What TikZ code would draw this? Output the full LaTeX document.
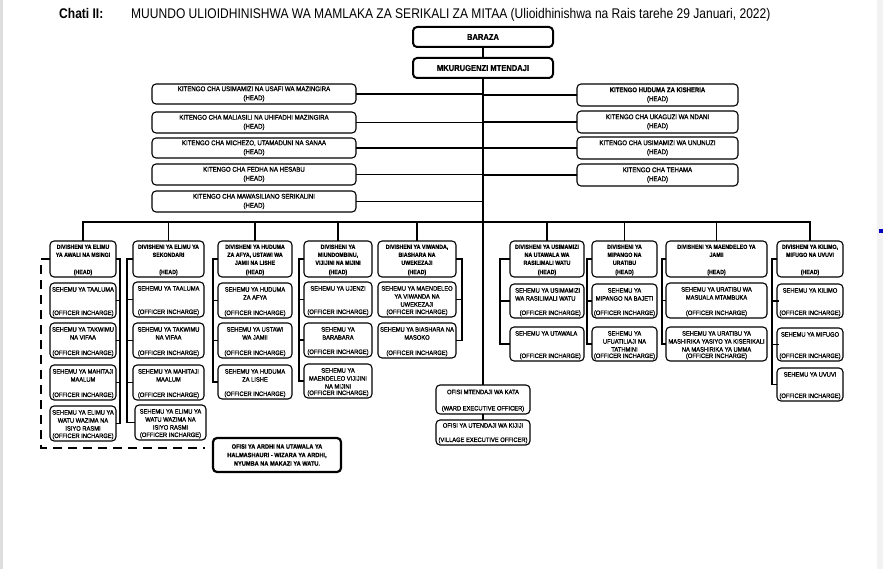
\documentclass[tikz,border=0pt]{standalone}
\usepackage{fontspec}
\setmainfont{Liberation Sans}
\newfontfamily\nar[FakeStretch=0.9]{Liberation Sans}
\newfontfamily\narm[FakeStretch=0.9,FakeBold=1.2]{Liberation Sans}
\newfontfamily\narb[FakeStretch=0.88,FakeBold=0.8]{Liberation Sans}
\newfontfamily\narT[FakeStretch=0.86]{Liberation Sans}
\tikzset{
  bx/.style={draw=black, line width=1.1pt, rounded corners=4pt, inner sep=0pt, outer sep=0pt, fill=white},
  bxk/.style={bx, line width=2pt},
  conn/.style={draw=black, line width=1.3pt},
  htx/.style={font=\narm\fontsize{6.8}{9}\selectfont, align=center, inner sep=0pt},
  stx/.style={font=\narm\fontsize{6.4}{8}\selectfont, align=center, inner sep=0pt},
  dtx/.style={font=\narb\bfseries\fontsize{6}{8}\selectfont, align=center, inner sep=0pt},
  atx/.style={font=\narb\bfseries\fontsize{6.4}{8.5}\selectfont, align=center, inner sep=0pt},
  dashln/.style={draw=black, line width=2.2pt, dash pattern=on 9pt off 6pt},
}
\newcommand\HB[6]{%
  \node[bx, htx, minimum width={#4-#2}, minimum height={#5-#3}] (#1) at ({(#2+#4)/2},{(#3+#5)/2}) {#6\\(HEAD)};}
\newcommand\DV[4]{%
  \node[bx, minimum width={#3-#2}, minimum height=36] (#1) at ({(#2+#3)/2},259) {};
  \node[dtx, anchor=north] at ([yshift=-3.5pt]#1.north) {#4};
  \node[dtx, anchor=south] at ([yshift=1.5pt]#1.south) {(HEAD)};}
\newcommand\SB[6]{%
  \node[bx, minimum width={#4-#2}, minimum height={#5-#3}] (#1) at ({(#2+#4)/2},{(#3+#5)/2}) {};
  \node[stx, anchor=north] at ([yshift=-4pt]#1.north) {#6};
  \node[stx, anchor=south] at ([yshift=1.5pt]#1.south) {(OFFICER INCHARGE)};}
\begin{document}
\begin{tikzpicture}[x=1pt,y=-1pt]
\useasboundingbox (0,0) rectangle (883,569);
\fill[white] (0,0) rectangle (883,569);
\fill[black!13] (0,0) rectangle (3,569);
\fill[black!5] (877,0) rectangle (883,569);
\fill[blue!75!black] (879,229) rectangle (883,233);

% title
\node[anchor=base west, inner sep=0pt, font=\narT\bfseries\fontsize{14}{16}\selectfont] (chati) at (59,19) {Chati II:};
\node[anchor=base west, inner sep=0pt, font=\narT\fontsize{14}{16}\selectfont] (title) at (131,19) {MUUNDO ULIOIDHINISHWA WA MAMLAKA ZA SERIKALI ZA MITAA (Ulioidhinishwa na Rais tarehe 29 Januari, 2022)};

% top
\node[bxk, font=\narb\bfseries\fontsize{8.6}{10}\selectfont, minimum width=140, minimum height=20] (baraza) at (483,37) {BARAZA};
\node[bxk, font=\narb\bfseries\fontsize{8.6}{10}\selectfont, minimum width=140, minimum height=20] (mk) at (483,68) {MKURUGENZI MTENDAJI};

% heads left
\HB{h1}{152}{84}{356}{104}{KITENGO CHA USIMAMIZI NA USAFI WA MAZINGIRA}
\HB{h2}{152}{112}{356}{133}{KITENGO CHA MALIASILI NA UHIFADHI MAZINGIRA}
\HB{h3}{152}{138}{356}{158}{KITENGO CHA MICHEZO, UTAMADUNI NA SANAA}
\HB{h4}{152}{164}{356}{185}{KITENGO CHA FEDHA NA HESABU}
\HB{h5}{152}{191}{356}{212}{KITENGO CHA MAWASILIANO SERIKALINI}
% heads right
\HB{r1}{577}{84}{738}{106}{\narb\bfseries KITENGO HUDUMA ZA KISHERIA}
\HB{r2}{577}{111}{738}{133}{KITENGO CHA UKAGUZI WA NDANI}
\HB{r3}{577}{137}{738}{159}{KITENGO CHA USIMAMIZI WA UNUNUZI}
\HB{r4}{577}{164}{738}{186}{KITENGO CHA TEHAMA}

% divisions
\DV{d1}{50}{116}{DIVISHENI YA ELIMU\\YA AWALI NA MSINGI}
\DV{d2}{133}{204}{DIVISHENI YA ELIMU YA\\SEKONDARI}
\DV{d3}{218}{292}{DIVISHENI YA HUDUMA\\ZA AFYA, USTAWI WA\\JAMII NA LISHE}
\DV{d4}{304}{372}{DIVISHENI YA\\MIUNDOMBINU,\\VIJIJINI NA MIJINI}
\DV{d5}{378}{456}{DIVISHENI YA VIWANDA,\\BIASHARA NA\\UWEKEZAJI}
\DV{d6}{510}{584}{DIVISHENI YA USIMAMIZI\\NA UTAWALA WA\\RASILIMALI WATU}
\DV{d7}{592}{657}{DIVISHENI YA\\MIPANGO NA\\URATIBU}
\DV{d8}{666}{767}{DIVISHENI YA MAENDELEO YA\\JAMII}
\DV{d9}{777}{843}{DIVISHENI YA KILIMO,\\MIFUGO NA UVUVI}

% sections col 1
\SB{s11}{50}{283}{116}{318}{SEHEMU YA TAALUMA}
\SB{s12}{50}{323}{116}{358}{SEHEMU YA TAKWIMU\\NA VIFAA}
\SB{s13}{50}{365}{116}{400}{SEHEMU YA MAHITAJI\\MAALUM}
\SB{s14}{50}{406}{116}{441}{SEHEMU YA ELIMU YA\\WATU WAZIMA NA\\ISIYO RASMI}
% col 2
\SB{s21}{133}{282}{204}{317}{SEHEMU YA TAALUMA}
\SB{s22}{133}{323}{204}{358}{SEHEMU YA TAKWIMU\\NA VIFAA}
\SB{s23}{133}{365}{204}{400}{SEHEMU YA MAHITAJI\\MAALUM}
\SB{s24}{135}{405}{206}{440}{SEHEMU YA ELIMU YA\\WATU WAZIMA NA\\ISIYO RASMI}
% col 3
\SB{s31}{218}{283}{292}{318}{SEHEMU YA HUDUMA\\ZA AFYA}
\SB{s32}{218}{323}{292}{358}{SEHEMU YA USTAWI\\WA JAMII}
\SB{s33}{218}{365}{292}{399}{SEHEMU YA HUDUMA\\ZA LISHE}
% col 4
\SB{s41}{304}{282}{372}{317}{SEHEMU YA UJENZI}
\SB{s42}{304}{323}{372}{357}{SEHEMU YA\\BARABARA}
\SB{s43}{304}{364}{372}{398}{SEHEMU YA\\MAENDELEO VIJIJINI\\NA MIJINI}
% col 5
\SB{s51}{378}{282}{456}{317}{SEHEMU YA MAENDELEO\\YA VIWANDA NA\\UWEKEZAJI}
\SB{s52}{378}{323}{456}{358}{SEHEMU YA BIASHARA NA\\MASOKO}
% col 6 (left aligned)
\node[bx, minimum width=74, minimum height=34] (s61) at (547,301) {};
\node[stx, anchor=north west, align=left] at ([xshift=5pt,yshift=-4pt]s61.north west) {SEHEMU YA USIMAMIZI\\WA RASILIMALI WATU};
\node[stx, anchor=south east] at ([xshift=-3pt,yshift=1.5pt]s61.south east) {(OFFICER INCHARGE)};
\node[bx, minimum width=74, minimum height=34] (s62) at (547,344) {};
\node[stx, anchor=north west, align=left] at ([xshift=5pt,yshift=-4pt]s62.north west) {SEHEMU YA UTAWALA};
\node[stx, anchor=south east] at ([xshift=-3pt,yshift=1.5pt]s62.south east) {(OFFICER INCHARGE)};
% col 7
\SB{s71}{592}{284}{657}{318}{SEHEMU YA\\MIPANGO NA BAJETI}
\SB{s72}{592}{327}{657}{361}{SEHEMU YA\\UFUATILIAJI NA\\TATHMINI}
% col 8
\SB{s81}{666}{283}{767}{318}{SEHEMU YA URATIBU WA\\MASUALA MTAMBUKA}
\SB{s82}{666}{327}{767}{361}{SEHEMU YA URATIBU YA\\MASHIRIKA YASIYO YA KISERIKALI\\NA MASHIRIKA YA UMMA}
% col 9
\SB{s91}{777}{284}{843}{318}{SEHEMU YA KILIMO}
\SB{s92}{777}{328}{843}{361}{SEHEMU YA MIFUGO}
\SB{s93}{777}{368}{843}{401}{SEHEMU YA UVUVI}

% ward / village
\node[bx, minimum width=94, minimum height=29] (kata) at (483,399.5) {};
\node[stx, anchor=north] at ([yshift=-4.5pt]kata.north) {OFISI MTENDAJI WA KATA};
\node[stx, anchor=south] at ([yshift=2pt]kata.south) {(WARD EXECUTIVE OFFICER)};
\node[bx, minimum width=94, minimum height=25] (kijiji) at (483,432.5) {};
\node[stx, anchor=north] at ([yshift=-3pt]kijiji.north) {OFISI YA UTENDAJI WA KIJIJI};
\node[stx, anchor=south] at ([yshift=1.5pt]kijiji.south) {(VILLAGE EXECUTIVE OFFICER)};

% ardhi
\node[bx, line width=2.2pt, atx, minimum width=128, minimum height=34] (ardhi) at (277,455) {OFISI YA ARDHI NA UTAWALA YA\\HALMASHAURI - WIZARA YA ARDHI,\\NYUMBA NA MAKAZI YA WATU.};

% trunk
\coordinate (bus) at (483,222);
\draw[conn] (baraza.south) -- (mk.north);
\draw[conn] (mk.south) -- (kata.north);
\draw[conn] (kata.south) -- (kijiji.north);
\foreach \h in {h1,h2,h3,h4,h5} \draw[conn] (\h.east) -- (\h.east -| mk.south);
\foreach \r in {r1,r2,r3,r4} \draw[conn] (\r.west) -- (\r.west -| mk.south);
\draw[conn] (d1.north) |- (bus) -| (d9.north);
\foreach \d in {d2,d3,d4,d5,d6,d7,d8} \draw[conn] (\d.north) -- (\d.north |- bus);

% column connectors
\draw[conn] (d1.east) -- ++(4,0) |- (s14.east);
\foreach \s in {s11,s12,s13} \draw[conn] (\s.east) -- ++(4,0);
\draw[conn] (d2.west) -- ++(-6,0) |- (s24.west);
\foreach \s in {s21,s22,s23} \draw[conn] (\s.west) -- ++(-6,0);
\draw[conn] (d3.west) -- ++(-5,0) |- (s33.west);
\foreach \s in {s31,s32} \draw[conn] (\s.west) -- ++(-5,0);
\draw[conn] (d4.west) -- ++(-5,0) |- (s43.west);
\foreach \s in {s41,s42} \draw[conn] (\s.west) -- ++(-5,0);
\draw[conn] (d5.east) -- ++(6,0) |- (s52.east);
\draw[conn] (s51.east) -- ++(6,0);
\draw[conn] (d6.west) -- ++(-10,0) |- (s62.west);
\draw[conn] (s61.west) -- ++(-10,0);
\draw[conn] (d7.west) -- ++(-5,0) |- (s72.west);
\draw[conn] (s71.west) -- ++(-5,0);
\draw[conn] (d8.west) -- ++(-4,0) |- (s82.west);
\draw[conn] (s81.west) -- ++(-4,0);
\draw[conn] (d9.west) -- ++(-5,0) |- (s93.west);
\foreach \s in {s91,s92} \draw[conn] ([xshift=2pt]\s.west) -- ++(-8,0);

% dashed link
\coordinate (dc) at (41,448);
\coordinate (aw) at ([xshift=-8pt]ardhi.west);
\draw[dashln] (d1.west) -| (dc) -- (aw |- dc);
\end{tikzpicture}
\end{document}
